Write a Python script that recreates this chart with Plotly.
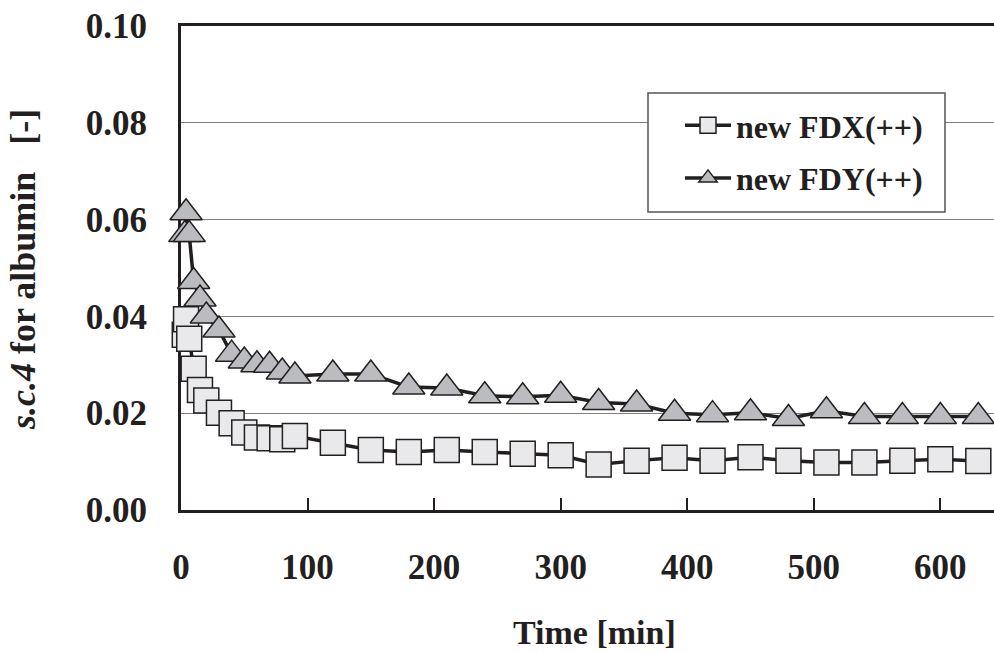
import plotly.graph_objects as go

# ---- data ----
time_fdx = [3, 4, 6.5, 10, 15, 20, 30, 40, 50, 60, 70, 80, 90, 120, 150, 180, 210, 240,
            270, 300, 330, 360, 390, 420, 450, 480, 510, 540, 570, 600, 630]
sc_fdx = [0.0362, 0.0394, 0.0354, 0.0292, 0.0248, 0.0226, 0.0201, 0.0179, 0.0160, 0.0150,
          0.0148, 0.0146, 0.0153, 0.0139, 0.0124, 0.0120, 0.0124, 0.0120, 0.0116, 0.0113,
          0.0094, 0.0102, 0.0108, 0.0102, 0.0109, 0.0102, 0.0098, 0.0098, 0.0102, 0.0105,
          0.0101]
time_fdy = [3, 4, 6.5, 10, 15, 20, 30, 40, 50, 60, 70, 80, 90, 120, 150, 180, 210, 240,
            270, 300, 330, 360, 390, 420, 450, 480, 510, 540, 570, 600, 630]
sc_fdy = [0.0569, 0.0614, 0.0569, 0.0472, 0.0436, 0.0401, 0.0372, 0.0322, 0.0308, 0.0300,
          0.0299, 0.0285, 0.0277, 0.0281, 0.0281, 0.0254, 0.0252, 0.0236, 0.0234, 0.0237,
          0.0222, 0.0219, 0.0200, 0.0197, 0.0201, 0.0189, 0.0205, 0.0193, 0.0193, 0.0193,
          0.0193]
names = ["new FDX(++)", "new FDY(++)"]
x_ticks = [0, 100, 200, 300, 400, 500, 600]
y_ticks = [0.00, 0.02, 0.04, 0.06, 0.08, 0.10]

INK = "#231f20"
FONT = "Liberation Serif"

fig = go.Figure()
fig.add_trace(go.Scatter(
    x=time_fdx, y=sc_fdx, name=names[0], mode="lines+markers",
    line=dict(color=INK, width=3.5),
    marker=dict(symbol="square", size=25, color="#e9e9eb", line=dict(color=INK, width=1.5)),
    cliponaxis=False, legendgroup="a",
))
fig.add_trace(go.Scatter(
    x=time_fdy, y=sc_fdy, name=names[1], mode="lines+markers",
    line=dict(color=INK, width=3.5),
    marker=dict(symbol="triangle-up", size=28, color="#bbbcc0", line=dict(color=INK, width=1.5)),
    cliponaxis=False, legendgroup="b",
))

fig.update_layout(
    width=994, height=653,
    margin=dict(l=181, r=0, t=26, b=143),
    paper_bgcolor="white", plot_bgcolor="white",
    font=dict(family=FONT, color=INK),
    showlegend=True,
    legend=dict(
        x=(680 - 181) / 813, y=(510 - 98) / 484, xanchor="left", yanchor="top",
        bgcolor="rgba(0,0,0,0)", borderwidth=0,
        font=dict(family=FONT, size=32, color=INK, weight="bold"),
        itemwidth=46, tracegroupgap=8, traceorder="grouped",
        itemsizing="trace",
    ),
    shapes=[
        dict(type="rect", xref="paper", yref="paper",
             x0=(648 - 181) / 813, x1=(945 - 181) / 813,
             y0=(510 - 212) / 484, y1=(510 - 93) / 484,
             fillcolor="white", line=dict(color="#555555", width=1.5), layer="above"),
    ],
    xaxis=dict(
        range=[0, 642.4], tickvals=x_ticks, ticktext=[str(v) for v in x_ticks],
        showgrid=False, zeroline=False,
        showline=True, linecolor=INK, linewidth=3, mirror=True,
        ticks="inside", ticklen=12, tickwidth=1.5, tickcolor=INK,
        tickfont=dict(family=FONT, size=35, color=INK, weight="bold"),
        ticklabelstandoff=24, layer="below traces",
    ),
    yaxis=dict(
        range=[0, 0.1], tickvals=y_ticks, ticktext=[f"{v:.2f}" for v in y_ticks],
        showgrid=True, gridcolor="#808080", gridwidth=1, zeroline=False,
        showline=True, linecolor=INK, linewidth=3,
        ticks="",
        tickfont=dict(family=FONT, size=35, color=INK, weight="bold"),
        ticklabelstandoff=24, layer="below traces",
    ),
    annotations=[
        dict(text="Time [min]", xref="paper", yref="paper", x=0.509, y=(510 - 632) / 484,
             xanchor="center", yanchor="middle", showarrow=False,
             font=dict(family=FONT, size=34, color=INK, weight="bold")),
        dict(text="<i>s.c.4</i> for albumin&nbsp;&nbsp;&nbsp;[-]", xref="paper", yref="paper",
             x=-0.1943, y=0.4959, xanchor="center", yanchor="middle", textangle=-90,
             showarrow=False,
             font=dict(family=FONT, size=36, color=INK, weight="bold")),
    ],
)

fig.write_html("out.html")
